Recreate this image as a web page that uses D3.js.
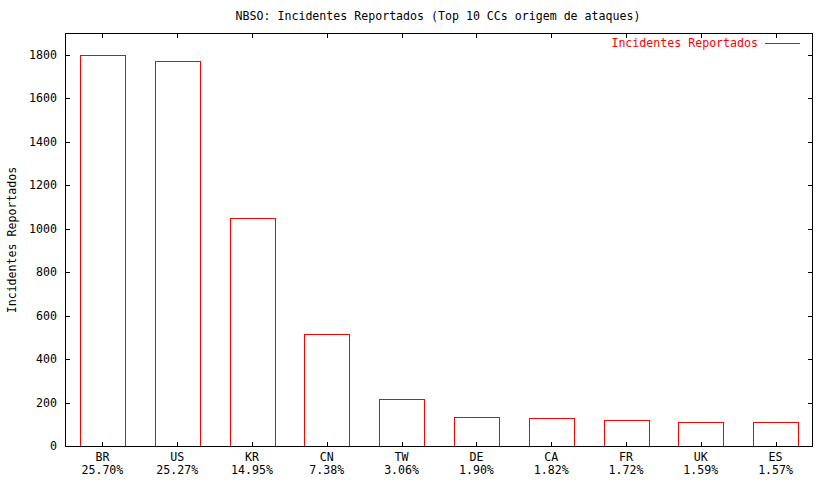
<!DOCTYPE html>
<html><head><meta charset="utf-8">
<script src="https://cdn.jsdelivr.net/npm/d3@7"></script>
<style>body{margin:0;background:#fff}svg{display:block}text{font-family:"DejaVu Sans Mono",monospace;font-size:11.6px}</style>
</head><body>
<script>
const categories = ["BR","US","KR","CN","TW","DE","CA","FR","UK","ES"];
const percents = ["25.70%","25.27%","14.95%","7.38%","3.06%","1.90%","1.82%","1.72%","1.59%","1.57%"];
const values = [1800,1770,1047,517,214,133,127,120,111,110];
const yTicks = [0,200,400,600,800,1000,1200,1400,1600,1800];
const title = "NBSO: Incidentes Reportados (Top 10 CCs origem de ataques)";
const seriesName = "Incidentes Reportados";

const W=832,H=480, L=65, R=813, T=33, B=446;
const svg=d3.select("body").append("svg").attr("width",W).attr("height",H);
const x=d3.scaleLinear().domain([-0.5,9.5]).range([L,R]);
const y=d3.scaleLinear().domain([0,1900]).range([B,T]);
const bw=(x(1)-x(0))*0.6;

// bars
svg.append("g").selectAll("rect").data(values).join("rect")
 .attr("x",(d,i)=>Math.round(x(i)-bw/2)+0.5).attr("y",d=>Math.round(y(d))+0.5)
 .attr("width",Math.round(bw)).attr("height",d=>Math.round(B-y(d)))
 .attr("fill","none").attr("stroke","#ff0000").attr("stroke-width",1);

// frame
svg.append("rect").attr("x",L+0.5).attr("y",T+0.5).attr("width",R-L-1).attr("height",B-T)
 .attr("fill","none").attr("stroke","#000");

// ticks
const g=svg.append("g").attr("stroke","#000");
yTicks.forEach(t=>{const yy=Math.round(y(t))+0.5;
 g.append("line").attr("x1",L).attr("x2",L+5).attr("y1",yy).attr("y2",yy);
 g.append("line").attr("x1",R-5).attr("x2",R).attr("y1",yy).attr("y2",yy);
});
categories.forEach((c,i)=>{const xx=Math.round(x(i))+0.5;
 g.append("line").attr("x1",xx).attr("x2",xx).attr("y1",B).attr("y2",B-4);
 g.append("line").attr("x1",xx).attr("x2",xx).attr("y1",T).attr("y2",T+5);
});
svg.append("g").selectAll("text").data(yTicks).join("text")
 .attr("x",57).attr("y",d=>y(d)+4).attr("text-anchor","end").text(d=>d);
const xl=svg.append("g").selectAll("g").data(categories).join("g").style("font-size","11px");
xl.append("text").attr("x",(d,i)=>x(i)).attr("y",460.5).attr("text-anchor","middle").text(d=>d);
xl.append("text").attr("x",(d,i)=>x(i)).attr("y",473.5).attr("text-anchor","middle").text((d,i)=>percents[i]);

svg.append("text").attr("x",438).attr("y",20).attr("text-anchor","middle").text(title);
svg.append("text").attr("transform","translate(16,240) rotate(-90)").attr("text-anchor","middle").text(seriesName);
svg.append("text").attr("x",758).attr("y",47).attr("text-anchor","end").attr("fill","#ff0000").text(seriesName);
svg.append("line").attr("x1",765).attr("x2",800).attr("y1",43.5).attr("y2",43.5).attr("stroke","#ff0000");
</script>
</body></html>
